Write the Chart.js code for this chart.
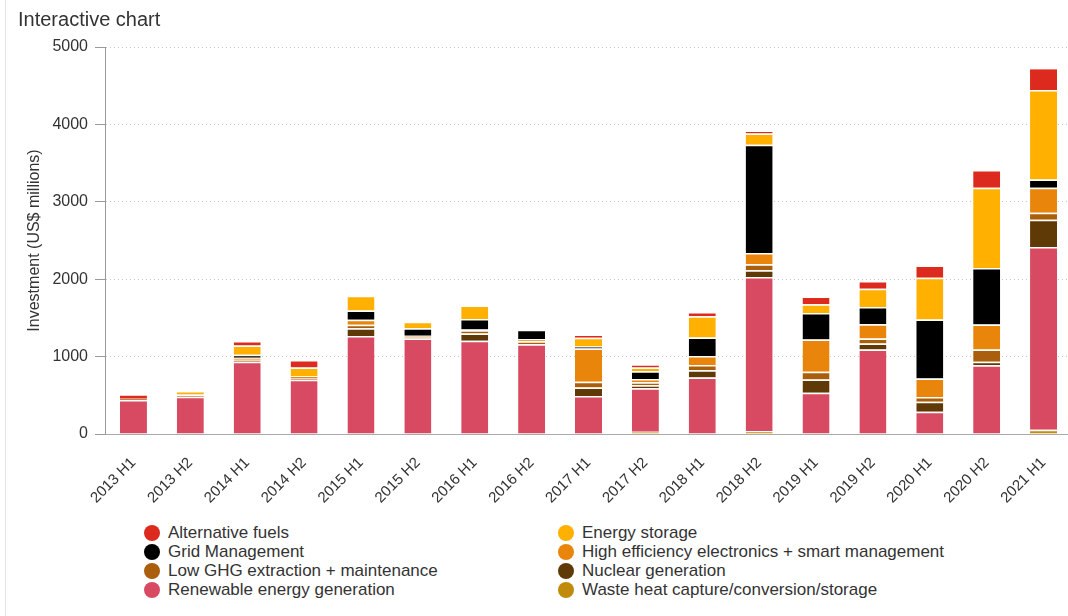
<!DOCTYPE html>
<html>
<head>
<meta charset="utf-8">
<script src="https://cdn.jsdelivr.net/npm/chart.js@4.4.1/dist/chart.umd.min.js"></script>
<style>
  html, body { margin: 0; padding: 0; background: #fff; overflow: hidden; }
  body { width: 1068px; height: 616px; position: relative; font-family: 'Liberation Sans', Arial, sans-serif; }
  #edge { position: absolute; left: 5px; top: 0; width: 1px; height: 616px; background: #e6e6e6; }
  #title { position: absolute; left: 18px; top: 8px; font-size: 20px; color: #333; }
  #wrap { position: absolute; left: 0; top: 0; width: 1074px; height: 515px; }
  #legend { position: absolute; left: 144px; top: 523px; width: 900px; }
  .item { position: absolute; font-size: 17px; color: #333; white-space: nowrap; line-height: 20px; }
  .dot { position: absolute; left: 0; top: 2px; width: 16px; height: 16px; border-radius: 50%; }
  .item span.txt { position: absolute; left: 24px; top: 0; }
</style>
</head>
<body>
<div id="edge"></div>
<div id="wrap"><canvas id="myChart"></canvas></div>
<div id="title">Interactive chart</div>
<div id="legend"></div>
<script>
const categories = ['2013 H1', '2013 H2', '2014 H1', '2014 H2', '2015 H1', '2015 H2', '2016 H1', '2016 H2',
  '2017 H1', '2017 H2', '2018 H1', '2018 H2', '2019 H1', '2019 H2', '2020 H1', '2020 H2', '2021 H1'];
const yTicks = [0, 1000, 2000, 3000, 4000, 5000];

// values in US$ millions
const wasteHeat = [0, 0, 0, 0, 0, 0, 0, 0, 0, 30, 0, 40, 0, 0, 0, 0, 55];
const renewable = [440, 480, 935, 700, 1265, 1235, 1205, 1158, 490, 560, 730, 1990, 533, 1091, 288, 889, 2360];
const nuclear = [0, 0, 0, 0, 100, 0, 95, 0, 112, 40, 95, 85, 172, 77, 128, 43, 352];
const lowGhg = [15, 20, 25, 25, 45, 20, 40, 40, 72, 40, 68, 77, 98, 65, 61, 160, 91];
const highEff = [0, 15, 25, 20, 65, 15, 10, 25, 430, 40, 116, 146, 417, 185, 240, 322, 323];
const gridMgmt = [0, 0, 40, 0, 120, 95, 135, 125, 25, 100, 237, 1400, 343, 222, 761, 730, 106];
const storage = [0, 40, 120, 115, 190, 85, 175, 0, 115, 50, 275, 146, 112, 237, 541, 1036, 1156];
const altFuels = [60, 0, 55, 95, 0, 0, 0, 0, 40, 40, 55, 35, 103, 99, 159, 232, 287];

// bottom of the stack first
const series = [
  { label: 'Waste heat capture/conversion/storage', data: wasteHeat, color: '#c08a0c' },
  { label: 'Renewable energy generation', data: renewable, color: '#d84a61' },
  { label: 'Nuclear generation', data: nuclear, color: '#603a06' },
  { label: 'Low GHG extraction + maintenance', data: lowGhg, color: '#a95f0b' },
  { label: 'High efficiency electronics + smart management', data: highEff, color: '#e8850a' },
  { label: 'Grid Management', data: gridMgmt, color: '#000000' },
  { label: 'Energy storage', data: storage, color: '#ffb000' },
  { label: 'Alternative fuels', data: altFuels, color: '#dd2a1e' },
];

const font = "'Liberation Sans', Arial, sans-serif";
Chart.defaults.font.family = font;
Chart.defaults.color = '#333';

const ctx = document.getElementById('myChart').getContext('2d');
const myChart = new Chart(ctx, {
  type: 'bar',
  data: {
    labels: categories,
    datasets: series.map(s => ({
      label: s.label,
      data: s.data,
      backgroundColor: s.color,
      borderColor: '#fff',
      borderWidth: { top: 1.5, left: 0, right: 0, bottom: 0 },
      borderSkipped: false,
      categoryPercentage: 1,
      barPercentage: 0.475,
    })),
  },
  options: {
    responsive: true,
    maintainAspectRatio: false,
    animation: false,
    layout: { padding: { top: 47, left: 22, right: 2, bottom: 0 } },
    plugins: { legend: { display: false }, tooltip: { enabled: false } },
    scales: {
      x: {
        stacked: true,
        grid: { display: false },
        border: { color: '#aaa', width: 1 },
        ticks: { maxRotation: 45, minRotation: 45, font: { size: 15 }, color: '#333', padding: 12 },
        afterFit(scale) { scale.height = 81; },
      },
      y: {
        stacked: true,
        min: 0,
        max: 5000,
        afterBuildTicks(scale) { scale.ticks = yTicks.map(v => ({ value: v })); },
        afterFit(scale) { scale.width = 83; },
        border: { color: '#999', width: 1, dash: [1, 3] },
        grid: {
          color: c => (c.tick && c.tick.value === 0 ? 'rgba(0,0,0,0)' : '#c8c8c8'),
          tickColor: '#999',
          tickLength: 10,
        },
        ticks: { font: { size: 16 }, color: '#333', padding: 7, callback: v => String(v) },
        title: { display: true, text: 'Investment (US$ millions)', font: { size: 16 }, color: '#333', padding: { top: 3, bottom: 3 } },
      },
    },
  },
});

// two-column legend in alphabetical order
const legendItems = series.slice().sort((a, b) => a.label.localeCompare(b.label));
let legendHtml = '';
legendItems.forEach((s, i) => {
  const col = i % 2;
  const row = Math.floor(i / 2);
  legendHtml += `<div class="item" style="left:${col * 414}px;top:${row * 19}px">
    <div class="dot" style="background:${s.color}"></div><span class="txt">${s.label}</span></div>`;
});
document.getElementById('legend').innerHTML = legendHtml;
</script>
</body>
</html>
